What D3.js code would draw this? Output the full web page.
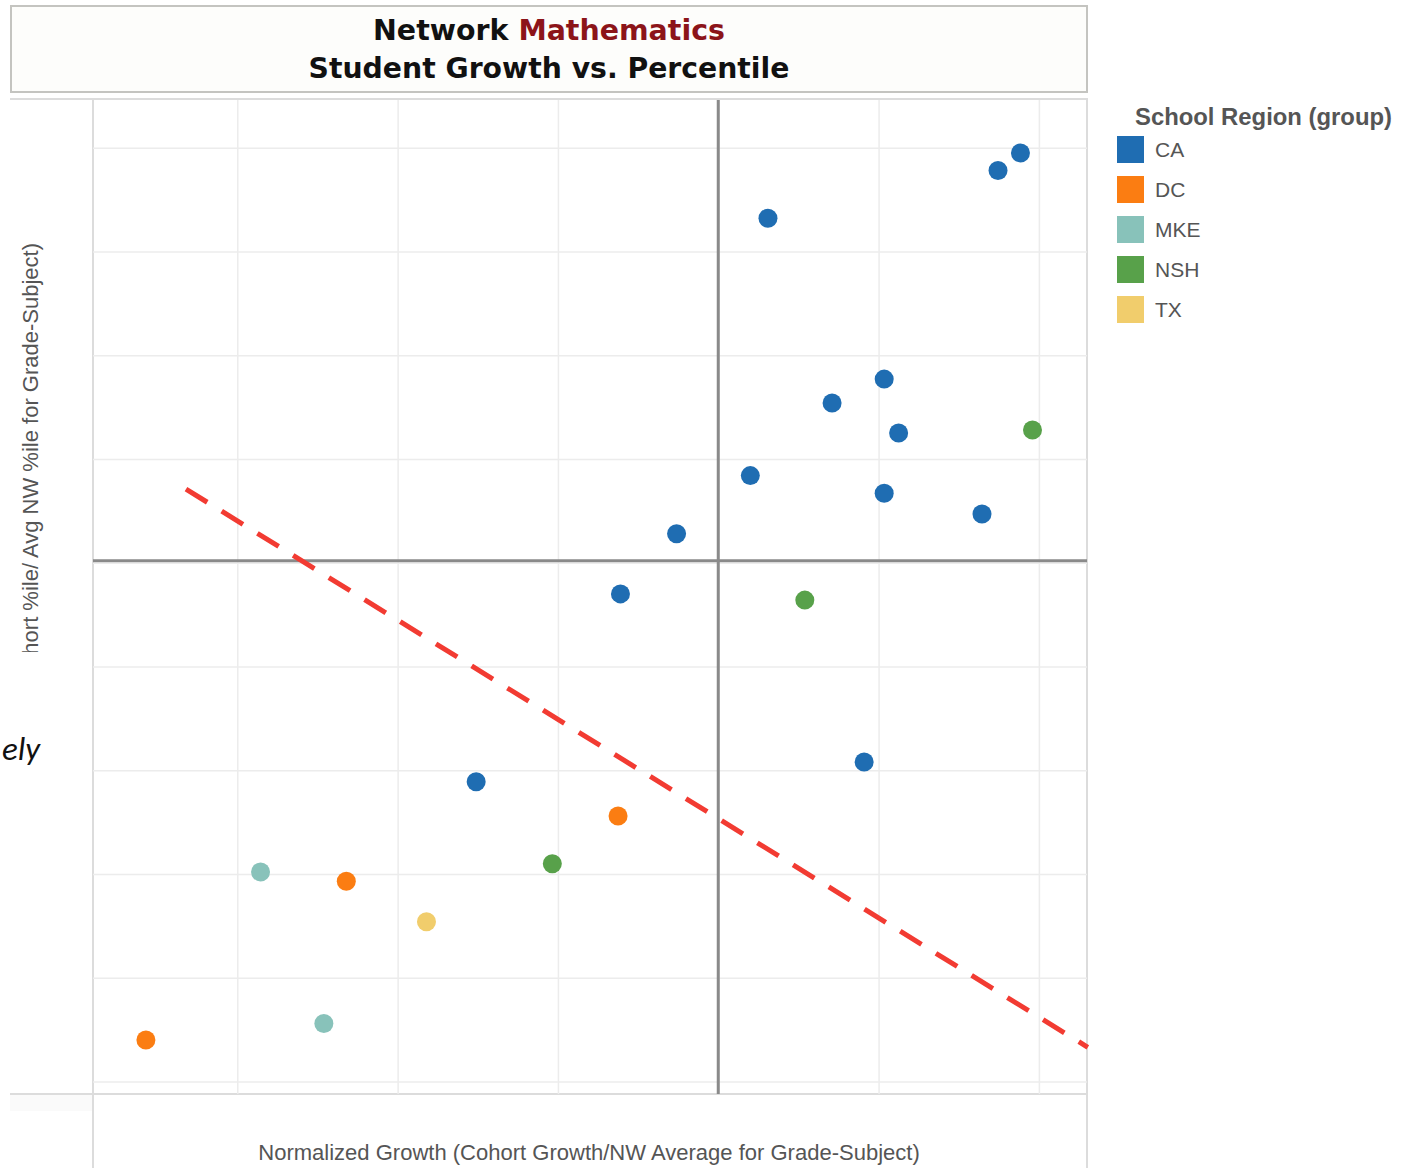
<!DOCTYPE html>
<html>
<head>
<meta charset="utf-8">
<script src="https://cdn.jsdelivr.net/npm/d3@7"></script>
<style>
  html, body { margin: 0; padding: 0; background: #ffffff; }
  svg { display: block; }
</style>
</head>
<body>
<svg id="chart" width="1408" height="1168"></svg>
<script>
// Regions and their colours
const regions = ["CA", "DC", "MKE", "NSH", "TX"];
const regionColors = ["#1f6db2", "#fb7d12", "#88c2ba", "#58a14a", "#f1cd6c"];

// [normalized growth, normalized percentile] per school
const caPoints = [
  [1.377, 1.395], [1.349, 1.378], [1.062, 1.332], [1.207, 1.177],
  [1.142, 1.154], [1.225, 1.125], [1.040, 1.084], [1.207, 1.067],
  [1.329, 1.047], [0.948, 1.028], [0.878, 0.970], [1.182, 0.808],
  [0.698, 0.789]
];
const dcPoints = [[0.875, 0.756], [0.536, 0.693], [0.286, 0.540]];
const mkePoints = [[0.429, 0.702], [0.508, 0.556]];
const nshPoints = [[1.392, 1.128], [1.108, 0.964], [0.793, 0.710]];
const txPoints = [[0.636, 0.654]];

// Grid ticks and reference (network average) lines
const growthTicks = [0.4, 0.6, 0.8, 1.0, 1.2, 1.4];
const percentileTicks = [0.5, 0.6, 0.7, 0.8, 0.9, 1.0, 1.1, 1.2, 1.3, 1.4];
const refGrowth = 1.0;
const refPercentile = 1.002;

// Dividing line drawn over the quadrants
const trendLine = [[0.336, 1.071], [1.461, 0.533]];

const titleLine1 = ["Network ", "Mathematics"];
const titleLine2 = "Student Growth vs. Percentile";
const legendTitle = "School Region (group)";
const xLabel = "Normalized Growth (Cohort Growth/NW Average for Grade-Subject)";
const yLabel = "Normalized Percentile (Cohort %ile/ Avg NW %ile for Grade-Subject)";
const sideNote = "ely";

const pointSets = [caPoints, dcPoints, mkePoints, nshPoints, txPoints];

const svg = d3.select("#chart");
const plot = { left: 93, right: 1087, top: 100, bottom: 1094 };

const x = d3.scaleLinear().domain([0.22, 1.46]).range([plot.left, plot.right]);
const y = d3.scaleLinear().domain([0.488, 1.446]).range([plot.bottom, plot.top]);

// Scale a text's font so its rendered width equals `width`
function fitWidth(sel, width) {
  const size = parseFloat(sel.attr("font-size"));
  const w = sel.node().getComputedTextLength();
  sel.attr("font-size", (size * width / w).toFixed(2));
}

// Title box
svg.append("rect")
  .attr("x", 11).attr("y", 6).attr("width", 1076).attr("height", 86)
  .attr("fill", "#fdfdfb").attr("stroke", "#c4c4c0").attr("stroke-width", 2);

const titleFont = "'DejaVu Sans', Verdana, sans-serif";
const t1 = svg.append("text")
  .attr("x", 549).attr("y", 40)
  .attr("text-anchor", "middle")
  .attr("font-family", titleFont)
  .attr("font-weight", 700).attr("font-size", 27);
t1.append("tspan").attr("fill", "#111").text(titleLine1[0]);
t1.append("tspan").attr("fill", "#8c1419").text(titleLine1[1]);
fitWidth(t1, 352);

const t2 = svg.append("text")
  .attr("x", 549).attr("y", 78)
  .attr("text-anchor", "middle")
  .attr("font-family", titleFont)
  .attr("font-weight", 700).attr("font-size", 27)
  .attr("fill", "#111")
  .text(titleLine2);
fitWidth(t2, 481);

// Frame lines of the plot pane
const frame = svg.append("g").attr("stroke", "#dcdcdc").attr("stroke-width", 2);
frame.append("line").attr("x1", 10).attr("x2", plot.right + 1).attr("y1", plot.top - 1).attr("y2", plot.top - 1);
frame.append("line").attr("x1", 10).attr("x2", plot.right).attr("y1", plot.bottom).attr("y2", plot.bottom);
frame.append("line").attr("x1", plot.left).attr("x2", plot.left).attr("y1", plot.top).attr("y2", 1168);
frame.append("line").attr("x1", plot.right).attr("x2", plot.right).attr("y1", plot.top - 2).attr("y2", 1168);
svg.append("rect").attr("x", 10).attr("y", plot.bottom + 1).attr("width", plot.left - 11).attr("height", 16)
  .attr("fill", "#fafafa");

// Gridlines via axes
const gridX = svg.append("g")
  .attr("transform", `translate(0,${plot.bottom})`)
  .call(d3.axisBottom(x).tickValues(growthTicks).tickSize(-(plot.bottom - plot.top)).tickFormat(""));
const gridY = svg.append("g")
  .attr("transform", `translate(${plot.left},0)`)
  .call(d3.axisLeft(y).tickValues(percentileTicks).tickSize(-(plot.right - plot.left)).tickFormat(""));
[gridX, gridY].forEach(g => {
  g.select(".domain").remove();
  g.selectAll(".tick line").attr("stroke", "#ececec").attr("stroke-width", 1.5);
});

// Reference lines
svg.append("line")
  .attr("x1", x(refGrowth)).attr("x2", x(refGrowth))
  .attr("y1", plot.top).attr("y2", plot.bottom)
  .attr("stroke", "#8a8a8a").attr("stroke-width", 3);
svg.append("line")
  .attr("x1", plot.left).attr("x2", plot.right)
  .attr("y1", y(refPercentile)).attr("y2", y(refPercentile))
  .attr("stroke", "#8a8a8a").attr("stroke-width", 3);

// Points
regions.forEach((r, i) => {
  svg.append("g").selectAll("circle")
    .data(pointSets[i])
    .join("circle")
    .attr("cx", d => x(d[0]))
    .attr("cy", d => y(d[1]))
    .attr("r", 9.5)
    .attr("fill", regionColors[i]);
});

// Dashed dividing line
svg.append("path")
  .datum(trendLine)
  .attr("d", d3.line().x(d => x(d[0])).y(d => y(d[1])))
  .attr("fill", "none")
  .attr("stroke", "#f23b32")
  .attr("stroke-width", 5)
  .attr("stroke-dasharray", "25,17");

// Axis titles
const xl = svg.append("text")
  .attr("x", 589).attr("y", 1160)
  .attr("text-anchor", "middle")
  .attr("font-family", "'Liberation Sans', Arial, sans-serif")
  .attr("font-size", 22)
  .attr("fill", "#555")
  .text(xLabel);
fitWidth(xl, 662);

svg.append("clipPath").attr("id", "ylabel-clip")
  .append("rect").attr("x", 0).attr("y", 0).attr("width", 90).attr("height", 652);
svg.append("g").attr("clip-path", "url(#ylabel-clip)")
  .append("text")
  .attr("transform", "translate(38,243) rotate(-90)")
  .attr("text-anchor", "end")
  .attr("font-family", "'Liberation Sans', Arial, sans-serif")
  .attr("font-size", 22)
  .attr("fill", "#555")
  .text(yLabel);

svg.append("text")
  .attr("x", 2).attr("y", 760)
  .attr("font-family", "Carlito, 'Open Sans', sans-serif")
  .attr("font-style", "italic")
  .attr("font-size", 33)
  .attr("fill", "#111")
  .text(sideNote);

// Legend
const legend = svg.append("g");
const lt = legend.append("text")
  .attr("x", 1135).attr("y", 125)
  .attr("font-family", "'Liberation Sans', Arial, sans-serif")
  .attr("font-weight", 700).attr("font-size", 22)
  .attr("fill", "#555")
  .text(legendTitle);
fitWidth(lt, 257);
const items = legend.selectAll("g.item").data(regions).join("g")
  .attr("class", "item")
  .attr("transform", (d, i) => `translate(1117,${136 + i * 40})`);
items.append("rect").attr("width", 27).attr("height", 27)
  .attr("fill", (d, i) => regionColors[i]);
items.append("text")
  .attr("x", 38).attr("y", 21)
  .attr("font-family", "'Liberation Sans', Arial, sans-serif")
  .attr("font-size", 21)
  .attr("fill", "#555")
  .text(d => d);
</script>
</body>
</html>
